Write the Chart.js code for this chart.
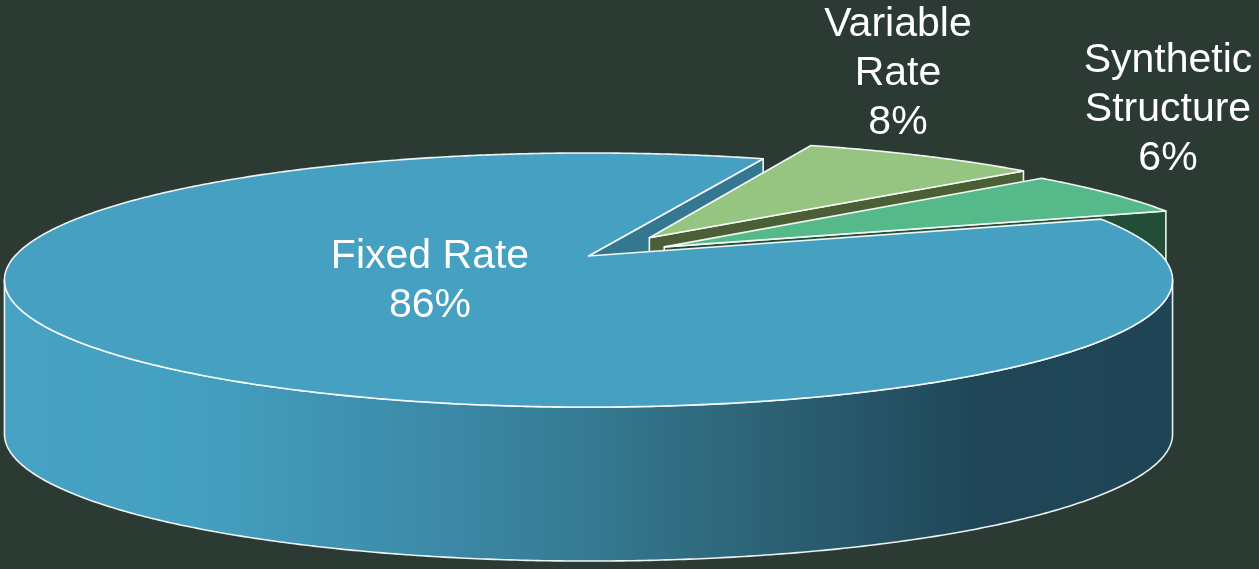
<!DOCTYPE html>
<html>
<head>
<meta charset="utf-8">
<script src="https://cdn.jsdelivr.net/npm/chart.js@4.4.1/dist/chart.umd.min.js"></script>
<style>
  html, body { margin: 0; padding: 0; background: #2b3a32; }
  #chart { display: block; }
</style>
</head>
<body>
<canvas id="chart" width="1259" height="569"></canvas>
<script>
// data
const labels = [['Fixed Rate'], ['Variable', 'Rate'], ['Synthetic', 'Structure']];
const shares = [86, 8, 6];

// styles
const topColors = ['#45a0c1', '#96c582', '#55b989'];
const wallColors = ['#347791', '#4b5f37', '#224e38'];
const explodeOffsets = [0, 49, 40];
const labelAnchors = [{ x: 430, y: 268 }, { x: 898, y: 36 }, { x: 1168, y: 72 }];

// fake camera for the 3d look (unit radius disc, z toward viewer)
const CAM = { cx: 588.5, cy: 256, f: 2964, D: 5.168, c: 0.9769, s: 0.2136, depth: 154 };

function proj(x, z, drop) {
  const d = CAM.D - z * CAM.c;
  return [CAM.cx + CAM.f * x / d, CAM.cy + CAM.f * z * CAM.s / d + (drop || 0)];
}

function arcPts(sl, from, to, drop) {
  const n = Math.max(2, Math.ceil(Math.abs(to - from) / 0.008));
  const pts = [];
  for (let k = 0; k <= n; k++) {
    const t = from + (to - from) * k / n;
    pts.push(proj(sl.ox + Math.cos(t), sl.oz + Math.sin(t), drop));
  }
  return pts;
}

function tracePoly(ctx, pts) {
  ctx.beginPath();
  ctx.moveTo(pts[0][0], pts[0][1]);
  for (let k = 1; k < pts.length; k++) ctx.lineTo(pts[k][0], pts[k][1]);
  ctx.closePath();
}

function sideGradient(ctx) {
  const g = ctx.createLinearGradient(0, 0, 1259, 0);
  g.addColorStop(0, '#47a2c3');
  g.addColorStop(0.15, '#44a0c0');
  g.addColorStop(0.36, '#3c88a6');
  g.addColorStop(0.48, '#34788f');
  g.addColorStop(0.6, '#2d6377');
  g.addColorStop(0.78, '#1f4657');
  g.addColorStop(1, '#1e4354');
  return g;
}

const pie3d = {
  id: 'pie3d',
  beforeDatasetsDraw(chart) {
    const ctx = chart.ctx;
    const H = CAM.depth;
    const arcs = chart.getDatasetMeta(0).data;
    const slices = arcs.map((arc, i) => {
      const p = arc.getProps(['startAngle', 'endAngle', 'outerRadius'], true);
      const e = (arc.options.offset || 0) / p.outerRadius;
      const mid = (p.startAngle + p.endAngle) / 2;
      return { i, a0: p.startAngle, a1: p.endAngle, ox: e * Math.cos(mid), oz: e * Math.sin(mid) };
    });

    ctx.save();
    ctx.lineJoin = 'round';
    ctx.strokeStyle = 'rgba(255,255,255,0.92)';
    ctx.lineWidth = 1.6;

    // radial walls facing the viewer, in clockwise order
    slices.forEach(sl => {
      const apex = proj(sl.ox, sl.oz);
      const apexB = [apex[0], apex[1] + H];
      [[sl.a0, -1], [sl.a1, 1]].forEach(([t, side]) => {
        if (side * Math.cos(t) <= 0) return;
        const edge = proj(sl.ox + Math.cos(t), sl.oz + Math.sin(t));
        tracePoly(ctx, [apex, edge, [edge[0], edge[1] + H], apexB]);
        ctx.fillStyle = wallColors[sl.i];
        ctx.fill();
        ctx.stroke();
      });
    });

    // outer curved walls (front half only)
    const tR = Math.asin(CAM.c / CAM.D);
    slices.forEach(sl => {
      for (let k = -1; k <= 1; k++) {
        const lo = Math.max(sl.a0, tR + k * 2 * Math.PI);
        const hi = Math.min(sl.a1, Math.PI - tR + k * 2 * Math.PI);
        if (hi <= lo) continue;
        const top = arcPts(sl, lo, hi, 0);
        const bot = arcPts(sl, hi, lo, H);
        tracePoly(ctx, top.concat(bot));
        ctx.fillStyle = sl.i === 0 ? sideGradient(ctx) : wallColors[sl.i];
        ctx.fill();
        ctx.stroke();
      }
    });

    // top faces, back to front
    slices.slice().sort((a, b) => a.oz - b.oz).forEach(sl => {
      const pts = [proj(sl.ox, sl.oz)].concat(arcPts(sl, sl.a0, sl.a1, 0));
      tracePoly(ctx, pts);
      ctx.fillStyle = topColors[sl.i];
      ctx.fill();
      ctx.stroke();
    });
    ctx.restore();
    return false;
  },
  afterDraw(chart) {
    const ctx = chart.ctx;
    const data = chart.data.datasets[0].data;
    ctx.save();
    ctx.fillStyle = '#ffffff';
    ctx.font = '41px "Liberation Sans", Arial, sans-serif';
    ctx.textAlign = 'center';
    ctx.textBaseline = 'alphabetic';
    chart.data.labels.forEach((lab, i) => {
      const lines = lab.concat([data[i] + '%']);
      lines.forEach((txt, k) => {
        ctx.fillText(txt, labelAnchors[i].x, labelAnchors[i].y + k * 49);
      });
    });
    ctx.restore();
  }
};

new Chart(document.getElementById('chart'), {
  type: 'pie',
  data: {
    labels: labels,
    datasets: [{
      data: shares,
      backgroundColor: topColors,
      borderWidth: 0,
      offset: explodeOffsets,
      clip: false
    }]
  },
  options: {
    responsive: false,
    animation: false,
    events: [],
    rotation: 71.4,
    plugins: {
      legend: { display: false },
      tooltip: { enabled: false }
    }
  },
  plugins: [pie3d]
});
</script>
</body>
</html>
